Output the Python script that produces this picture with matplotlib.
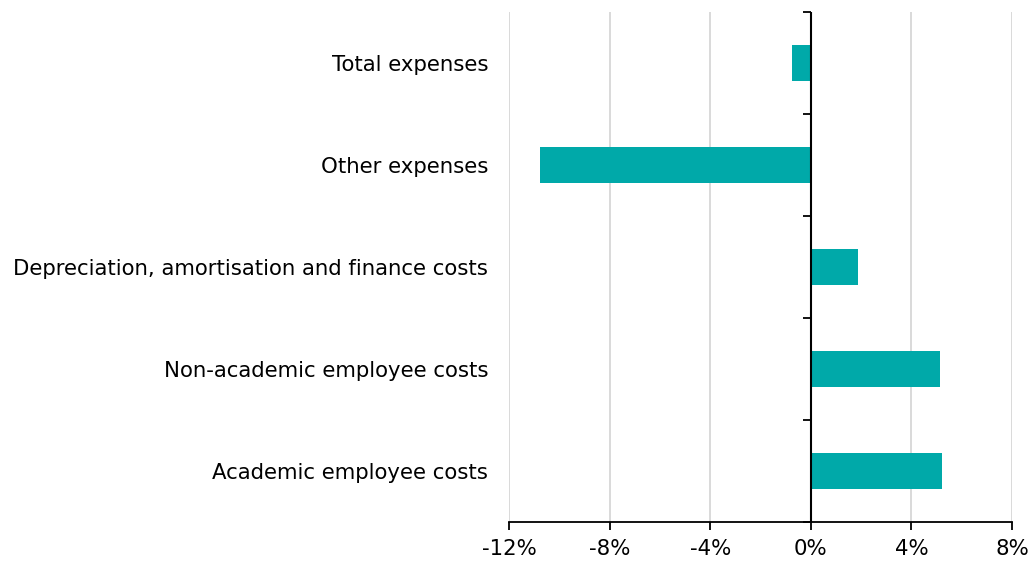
import numpy as np
import matplotlib.pyplot as plt
from matplotlib.ticker import FuncFormatter

# Categories listed bottom to top
categories = ['Academic employee costs', 'Non-academic employee costs',
              'Depreciation, amortisation and finance costs',
              'Other expenses', 'Total expenses']
change_pct = [5.21, 5.13, 1.87, -10.75, -0.76]

xticks = [-12, -8, -4, 0, 4, 8]
bar_color = '#00A9A9'

plt.rcParams['font.family'] = 'DejaVu Sans'

fig = plt.figure(figsize=(10.31, 5.62), dpi=100)
ax = fig.add_axes([0.4937, 0.0712, 0.9816 - 0.4937, 0.9786 - 0.0712])

y = np.arange(len(categories))
ax.barh(y, change_pct, height=0.35, color=bar_color, zorder=2)

ax.set_xlim(-12, 8)
ax.set_ylim(-0.5, len(categories) - 0.5)
ax.set_xticks(xticks)
ax.xaxis.set_major_formatter(FuncFormatter(lambda v, p: f'{v:.0f}%'))
ax.grid(axis='x', color='#d9d9d9', linewidth=1.4, zorder=0)

ax.set_yticks(y)
ax.set_yticklabels(categories)
ax.tick_params(axis='y', length=0, pad=15, labelsize=15.3)
ax.tick_params(axis='x', length=6, width=1.3, labelsize=15.3, pad=6)

for s in ['left', 'right', 'top']:
    ax.spines[s].set_visible(False)
ax.spines['bottom'].set_linewidth(1.3)

# vertical zero axis with ticks between categories
ax.axvline(0, color='black', linewidth=1.5, zorder=4)
zero_loc = (0 - xticks[0]) / (xticks[-1] - xticks[0])
sec = ax.secondary_yaxis(zero_loc)
sec.set_yticks(np.arange(-0.5, len(categories), 1.0))
sec.set_yticklabels([])
sec.tick_params(length=6, width=1.3, direction='in')
for s in sec.spines.values():
    s.set_visible(False)

fig.savefig('out.png', dpi=100)
